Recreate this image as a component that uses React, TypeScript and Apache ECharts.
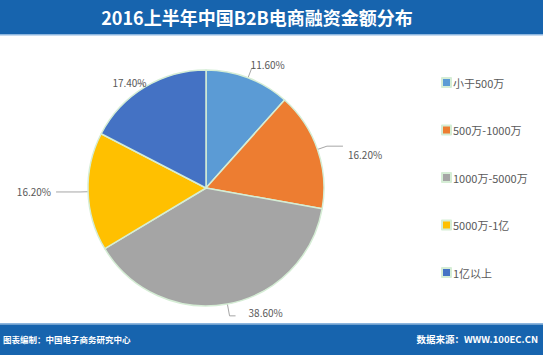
import React, { useEffect, useRef } from "react";
import * as echarts from "echarts";

const categories = ["小于500万", "500万-1000万", "1000万-5000万", "5000万-1亿", "1亿以上"];
const values = [11.6, 16.2, 38.6, 16.2, 17.4];
const colors = ["#5B9BD5", "#ED7D31", "#A5A5A5", "#FFC000", "#4472C4"];
const titleText = "2016上半年中国B2B电商融资金额分布";
const footerLeft = "图表编制：中国电子商务研究中心";
const footerRight = "数据来源：WWW.100EC.CN";
const lineLengths = [
  [10, 4],
  [10, 16],
  [12, 6],
  [8, 24],
  [4, 6],
];
const labelShift = [
  [-10, -4],
  [0, 8],
  [8, -3],
  [0, 0],
  [15, -1],
];

export default function App() {
  const ref = useRef<HTMLDivElement>(null);
  useEffect(() => {
    if (!ref.current) return;
    const chart = echarts.init(ref.current, undefined, { renderer: "svg" });
    const font = "'Noto Sans CJK SC', 'Noto Sans', sans-serif";
    chart.setOption({
      animation: false,
      backgroundColor: "#ffffff",
      color: colors,
      textStyle: { fontFamily: font },
      graphic: [
        { type: "rect", shape: { x: 0, y: 0, width: 543, height: 34 }, style: { fill: "#1764AE" }, z: 0 },
        { type: "rect", shape: { x: 0, y: 34, width: 543, height: 1.5 }, style: { fill: "#8DB6DF" }, z: 0 },
        {
          type: "text",
          x: 257,
          y: 17,
          style: {
            text: titleText,
            fill: "#ffffff",
            font: "bold 18px " + font,
            textAlign: "center",
            textVerticalAlign: "middle",
          },
          z: 1,
        },
        { type: "rect", shape: { x: 0, y: 323, width: 543, height: 1.5 }, style: { fill: "#8DB6DF" }, z: 0 },
        { type: "rect", shape: { x: 0, y: 324.5, width: 543, height: 31 }, style: { fill: "#1764AE" }, z: 0 },
        {
          type: "text",
          x: 3,
          y: 339,
          style: {
            text: footerLeft,
            fill: "#ffffff",
            font: "bold 8.5px " + font,
            textAlign: "left",
            textVerticalAlign: "middle",
          },
          z: 1,
        },
        {
          type: "text",
          x: 538,
          y: 339,
          style: {
            text: footerRight,
            fill: "#ffffff",
            font: "bold 9.5px " + font,
            textAlign: "right",
            textVerticalAlign: "middle",
          },
          z: 1,
        },
      ],
      legend: {
        orient: "vertical",
        left: 436,
        top: 72,
        itemWidth: 9,
        itemHeight: 9,
        itemGap: 36.5,
        icon: "rect",
        data: categories,
        textStyle: { fontSize: 11, color: "#595959", fontFamily: font, padding: [0, 0, 0, -3] },
      },
      series: [
        {
          type: "pie",
          center: [206, 188],
          radius: 118,
          startAngle: 90,
          clockwise: true,
          avoidLabelOverlap: false,
          data: categories.map((c, i) => ({
            name: c,
            value: values[i],
            labelLine: { length: lineLengths[i][0], length2: lineLengths[i][1] },
          })),
          itemStyle: { borderColor: "#D5EDD5", borderWidth: 1.5 },
          label: {
            show: true,
            position: "outside",
            formatter: (p: any) => p.value.toFixed(2) + "%",
            fontSize: 10,
            color: "#595959",
            fontFamily: font,
          },
          labelLayout: (p: any) => {
            const s = labelShift[p.dataIndex];
            return s[0] || s[1] ? { dx: s[0], dy: s[1] } : {};
          },
          labelLine: { show: true, lineStyle: { color: "#A6A6A6", width: 1 } },
          emphasis: { disabled: true },
        },
      ],
    });
    return () => chart.dispose();
  }, []);
  return (
    <div
      ref={ref}
      style={{ position: "fixed", left: 0, top: 0, width: 543, height: 355 }}
    />
  );
}
